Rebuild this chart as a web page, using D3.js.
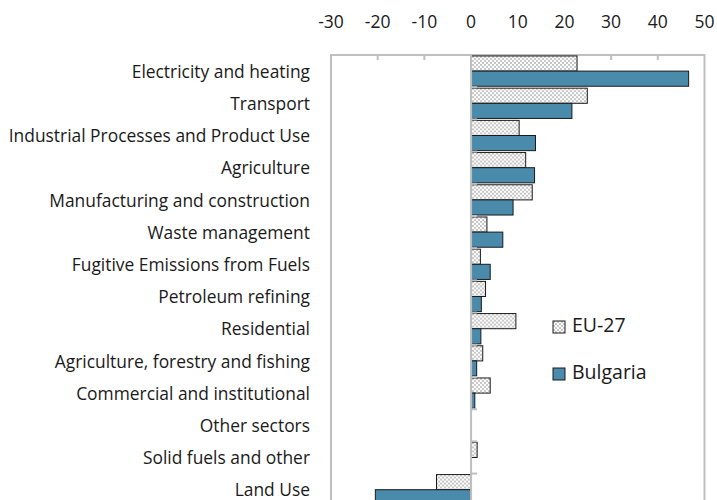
<!DOCTYPE html>
<html>
  <head>
    <meta charset="utf-8">
    <title>Emissions by sector</title>
    <script src="https://cdn.jsdelivr.net/npm/d3@7"></script>
    <style>
      body { margin: 0; background: #fff; }
      svg { display: block; font-family: "Open Sans", sans-serif; }
    </style>
  </head>
  <body>
    <svg id="chart" width="717" height="500"></svg>

    <script>
      // data
      const sectors = [
        "Electricity and heating",
        "Transport",
        "Industrial Processes and Product Use",
        "Agriculture",
        "Manufacturing and construction",
        "Waste management",
        "Fugitive Emissions from Fuels",
        "Petroleum refining",
        "Residential",
        "Agriculture, forestry and fishing",
        "Commercial and institutional",
        "Other sectors",
        "Solid fuels and other",
        "Land Use"
      ];
      const eu27 = [22.7, 24.9, 10.3, 11.7, 13.1, 3.4, 2.0, 3.1, 9.6, 2.5, 4.1, 0, 1.3, -7.4];
      const bulgaria = [46.6, 21.6, 13.8, 13.6, 9.0, 6.8, 4.1, 2.2, 2.1, 1.2, 0.8, 0, 0, -20.5];
      const xTicks = [-30, -20, -10, 0, 10, 20, 30, 40, 50];
      const seriesNames = ["EU-27", "Bulgaria"];

      // elements
      const chart = d3.select("#chart");
      const margin = {top: 55, left: 331, right: 13};
      const width = 717;
      const bandH = 32.2;

      const defs = chart.append("defs");
      const pat = defs.append("pattern")
          .attr("id", "checker")
          .attr("width", 4).attr("height", 4)
          .attr("patternUnits", "userSpaceOnUse");
      pat.append("rect").attr("width", 4).attr("height", 4).attr("fill", "#fff");
      pat.append("rect").attr("width", 2).attr("height", 2).attr("fill", "#c8c8c8");
      pat.append("rect").attr("x", 2).attr("y", 2).attr("width", 2).attr("height", 2).attr("fill", "#c8c8c8");

      const x = d3.scaleLinear()
          .domain([-30, 50])
          .range([margin.left, width - margin.right + 0.5]);

      const y = d3.scaleBand()
          .domain(sectors)
          .range([margin.top, margin.top + bandH * sectors.length])
          .paddingInner(0.06)
          .paddingOuter(0.03);

      const inner = d3.scaleBand()
          .domain(seriesNames)
          .range([0, y.bandwidth()]);

      const fills = ["url(#checker)", "#4a8aab"];
      const bottom = 506;

      // frame
      const frame = chart.append("g").attr("fill", "none").attr("stroke", "#bfbfbf").attr("stroke-width", 2);
      frame.append("path")
          .attr("d", `M${x(-30)},${bottom}V${margin.top}H${x(50)}V${bottom}`);

      // top axis ticks
      chart.append("g")
          .attr("stroke", "#bfbfbf").attr("stroke-width", 2)
          .selectAll("line")
          .data(xTicks.slice(1, -1))
          .join("line")
            .attr("x1", d => x(d)).attr("x2", d => x(d))
            .attr("y1", margin.top).attr("y2", margin.top + 5);

      chart.append("g")
          .attr("font-size", 17.5)
          .attr("fill", "#1a1a1a")
          .attr("text-anchor", "middle")
          .selectAll("text")
          .data(xTicks)
          .join("text")
            .attr("x", d => x(d))
            .attr("y", 28)
            .text(d => d);

      // bars
      const rows = chart.append("g")
          .selectAll("g")
          .data(sectors)
          .join("g")
            .attr("transform", d => `translate(0,${y(d)})`);

      rows.selectAll("rect")
          .data((d, i) => [eu27[i], bulgaria[i]].map((v, k) => ({v, k})))
          .join("rect")
            .filter(d => d.v !== 0)
            .attr("x", d => x(Math.min(0, d.v)))
            .attr("y", d => inner(seriesNames[d.k]))
            .attr("width", d => Math.abs(x(d.v) - x(0)))
            .attr("height", inner.bandwidth())
            .attr("fill", d => fills[d.k])
            .attr("stroke", "#1a1a1a")
            .attr("stroke-width", 1);

      // category axis with ticks at band edges
      const catAxis = chart.append("g").attr("stroke", "#bfbfbf").attr("stroke-width", 2);
      catAxis.append("line")
          .attr("x1", x(0)).attr("x2", x(0))
          .attr("y1", margin.top).attr("y2", bottom);
      catAxis.selectAll("line.tick")
          .data(d3.range(1, sectors.length))
          .join("line")
            .attr("class", "tick")
            .attr("x1", x(0)).attr("x2", x(0) + 6)
            .attr("y1", i => margin.top + i * bandH)
            .attr("y2", i => margin.top + i * bandH);

      // category labels
      chart.append("g")
          .attr("font-size", 17.4)
          .attr("fill", "#1a1a1a")
          .attr("text-anchor", "end")
          .selectAll("text")
          .data(sectors)
          .join("text")
            .attr("x", 310)
            .attr("y", d => y(d) + y.bandwidth() / 2 + 2)
            .attr("dominant-baseline", "middle")
            .text(d => d);

      // legend
      const legend = chart.append("g")
          .selectAll("g")
          .data(seriesNames)
          .join("g")
            .attr("transform", (d, i) => `translate(553,${321 + i * 47})`);
      legend.append("rect")
          .attr("width", 12).attr("height", 12)
          .attr("fill", (d, i) => fills[i])
          .attr("stroke", "#1a1a1a");
      legend.append("text")
          .attr("x", 19).attr("y", 6)
          .attr("dominant-baseline", "middle")
          .attr("font-size", 19.5)
          .attr("fill", "#1a1a1a")
          .text(d => d);
    </script>
  </body>
</html>
